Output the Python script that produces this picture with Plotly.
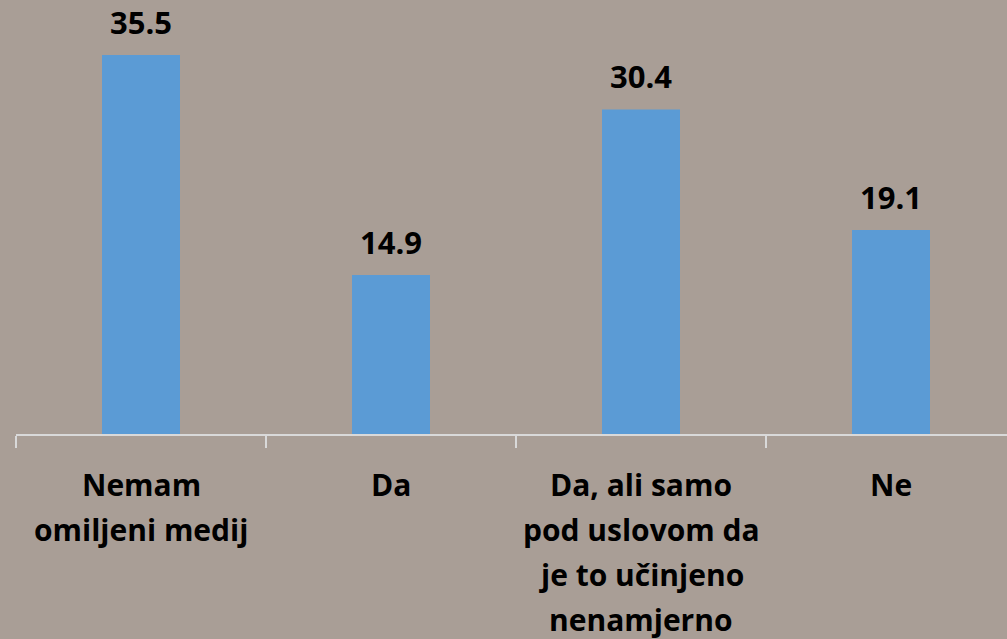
import plotly.graph_objects as go

categories = ["Nemam<br>omiljeni medij", "Da", "Da, ali samo<br>pod uslovom da<br>je to učinjeno<br>nenamjerno", "Ne"]
values = [35.5, 14.9, 30.4, 19.1]
value_labels = ["35.5", "14.9", "30.4", "19.1"]

BG = "#A99E96"
BAR = "#5B9BD5"
AXIS = "#D9D9D9"
FONT = "Open Sans"

fig = go.Figure()
fig.add_trace(go.Bar(x=list(range(len(categories))), y=values, marker_color=BAR,
                     marker_line_width=0, hoverinfo="skip"))

annotations = []
for i, (v, t) in enumerate(zip(values, value_labels)):
    annotations.append(dict(x=i, y=v, xref="x", yref="y", text=t, showarrow=False,
                            yanchor="middle", yshift=33,
                            font=dict(family=FONT, size=31, color="black", weight="bold")))
for i, c in enumerate(categories):
    for j, line in enumerate(c.split("<br>")):
        annotations.append(dict(x=i, y=0, xref="x", yref="y", text=line, showarrow=False,
                                yanchor="middle", yshift=-(50 + 45 * j),
                                font=dict(family=FONT, size=30, color="black", weight="bold")))

fig.update_layout(
    width=1007, height=639,
    margin=dict(l=16, r=0, t=0, b=205),
    paper_bgcolor=BG, plot_bgcolor=BG,
    bargap=0.688, showlegend=False,
    annotations=annotations,
    xaxis=dict(range=[-0.5, -0.5 + 991 / 250], showgrid=False, zeroline=False,
               showline=True, linecolor=AXIS, linewidth=2,
               tickmode="array", tickvals=[-0.5, 0.5, 1.5, 2.5, 3.5],
               ticktext=["", "", "", "", ""],
               ticks="outside", ticklen=12, tickwidth=2, tickcolor=AXIS),
    yaxis=dict(range=[0, 434 / (379 / 35.5)], visible=False, showgrid=False, zeroline=False),
)

fig.write_html("out.html", config={"displayModeBar": False},
               post_script="document.body.style.margin='0';document.body.style.overflow='hidden';")
